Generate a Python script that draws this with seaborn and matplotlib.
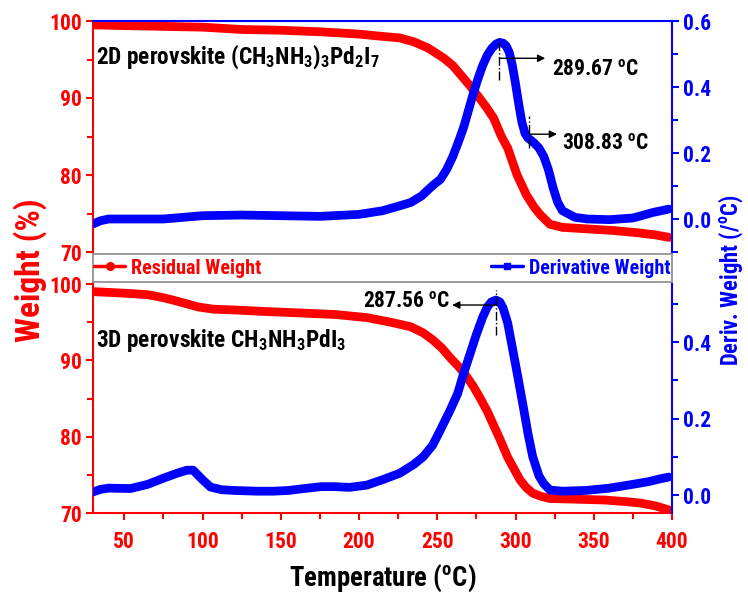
import numpy as np
import pandas as pd
import matplotlib
matplotlib.use("Agg")
import matplotlib.pyplot as plt
import seaborn as sns
from matplotlib import font_manager as fm
from matplotlib.lines import Line2D
from matplotlib.ticker import MultipleLocator, FormatStrFormatter

# ---------------- data ----------------
# 2D perovskite (CH3NH3)3Pd2I7
T_2d_w = [30, 50, 75, 100, 125, 150, 175, 200, 215, 226, 235, 244, 254, 260, 265, 270,
          275.5, 281, 286, 291, 295, 301, 307, 312, 316, 322, 330, 346, 362, 378, 390, 398]
W_2d = [99.5, 99.4, 99.3, 99.2, 98.9, 98.8, 98.6, 98.3, 98.0, 97.8, 97.3, 96.5, 95.2, 94.2, 93.0, 91.8,
        90.4, 88.9, 87.4, 85.0, 83.5, 80.0, 77.4, 75.8, 74.8, 73.6, 73.2, 73.0, 72.8, 72.5, 72.2, 71.9]

T_2d_d = [30, 35, 40, 50, 75, 100, 125, 150, 175, 200, 215, 226, 233, 240, 244, 248, 252, 256, 260,
          264, 267, 270, 273, 276, 279, 282, 285, 287.5, 289.67, 292, 294, 296, 298, 300, 302, 304,
          306, 308, 310, 312, 315, 318, 321, 324, 327, 330, 338, 346, 360, 375, 388, 398]
D_2d = [-0.015, -0.005, 0.0, 0.0, 0.0, 0.01, 0.012, 0.01, 0.008, 0.014, 0.025, 0.04, 0.05, 0.07, 0.088,
        0.105, 0.12, 0.15, 0.19, 0.24, 0.28, 0.33, 0.38, 0.425, 0.465, 0.497, 0.518, 0.53, 0.535, 0.533,
        0.525, 0.505, 0.465, 0.41, 0.35, 0.295, 0.26, 0.245, 0.238, 0.23, 0.215, 0.19, 0.15, 0.095, 0.05,
        0.025, 0.005, 0.0, -0.002, 0.003, 0.02, 0.03]

# 3D perovskite CH3NH3PdI3
T_3d_w = [30, 50, 65, 75, 81, 90, 97, 107, 120, 140, 163, 185, 205, 220, 233, 241, 247, 253, 258, 264,
          269, 273, 277, 282, 286, 290, 295, 299, 303, 307, 311, 316, 322, 340, 357, 370, 380, 390, 398]
W_3d = [99.0, 98.8, 98.6, 98.2, 97.9, 97.4, 97.0, 96.7, 96.6, 96.4, 96.2, 96.0, 95.6, 95.0, 94.4, 93.6,
        92.7, 91.6, 90.4, 89.1, 87.8, 86.6, 85.2, 83.3, 81.5, 79.7, 77.3, 75.8, 74.3, 73.3, 72.6, 72.2,
        71.9, 71.8, 71.7, 71.5, 71.3, 70.9, 70.4]

T_3d_d = [30, 35, 40, 54, 65, 75, 83, 90, 94, 100, 105, 112, 120, 135, 145, 155, 165, 176, 184, 194,
          205, 215, 226, 235, 241, 247, 252, 258, 263, 267, 271, 275, 279, 282, 284.5, 287.56, 290, 292,
          295, 298, 301, 305, 308, 311, 315, 318, 322, 330, 345, 360, 375, 385, 392, 398]
D_3d = [0.008, 0.015, 0.018, 0.017, 0.028, 0.044, 0.056, 0.065, 0.065, 0.04, 0.021, 0.014, 0.012, 0.01,
        0.01, 0.012, 0.017, 0.022, 0.022, 0.02, 0.026, 0.04, 0.057, 0.08, 0.10, 0.13, 0.17, 0.22, 0.265,
        0.32, 0.37, 0.42, 0.465, 0.492, 0.505, 0.51, 0.505, 0.49, 0.45, 0.385, 0.32, 0.23, 0.16, 0.10,
        0.05, 0.03, 0.013, 0.01, 0.012, 0.018, 0.028, 0.035, 0.042, 0.047]

peak_2d_main = 289.67
peak_2d_shoulder = 308.83
peak_3d = 287.56

label_2d = "2D perovskite (CH$_3$NH$_3$)$_3$Pd$_2$I$_7$"
label_3d = "3D perovskite CH$_3$NH$_3$PdI$_3$"
legend_labels = ["Residual Weight", "Derivative Weight"]
x_ticks = [50, 100, 150, 200, 250, 300, 350, 400]

# ---------------- style ----------------
sns.set_style("white")
names = {f.name for f in fm.fontManager.ttflist}
REG = "Liberation Sans" if "Liberation Sans" in names else "DejaVu Sans"
NARROW = None
for cand in ["Liberation Sans Narrow", "Arial Narrow", "Roboto Condensed", "Open Sans Condensed"]:
    if cand in names:
        NARROW = cand
        break
if NARROW is None:
    NARROW = REG
    SZ = dict(xlabel=16, ann=13.2, panel=15.2, legend=12.3, tick=14, ylab=20, rlab=14)
else:
    SZ = dict(xlabel=19.3, ann=15.5, panel=16.8, legend=14.5, tick=15.5, ylab=24, rlab=16.3)

plt.rcParams["font.family"] = [NARROW, REG, "DejaVu Sans"]
plt.rcParams["font.weight"] = "bold"
plt.rcParams["mathtext.fontset"] = "custom"
plt.rcParams["mathtext.rm"] = NARROW + ":bold"
plt.rcParams["mathtext.bf"] = NARROW + ":bold"
plt.rcParams["mathtext.it"] = NARROW + ":bold"
plt.rcParams["mathtext.default"] = "bf"

RED = "#ff0000"
BLUE = "#0000ff"
LW = 6.3

W, H = 748, 601
fig = plt.figure(figsize=(W / 100, H / 100), dpi=100)
L, R = 93, 672
def rect(top, bottom):
    return [L / W, 1 - bottom / H, (R - L) / W, (bottom - top) / H]

ax_top = fig.add_axes(rect(21, 252))
ax_leg = fig.add_axes(rect(254, 282))
ax_bot = fig.add_axes(rect(284, 513))

ax_top2 = ax_top.twinx()
ax_bot2 = ax_bot.twinx()

df2w = pd.DataFrame({"T": T_2d_w, "W": W_2d})
df2d = pd.DataFrame({"T": T_2d_d, "D": D_2d})
df3w = pd.DataFrame({"T": T_3d_w, "W": W_3d})
df3d = pd.DataFrame({"T": T_3d_d, "D": D_3d})

kw = dict(linewidth=LW, estimator=None, solid_capstyle="round", solid_joinstyle="round")
sns.lineplot(data=df2w, x="T", y="W", ax=ax_top, color=RED, **kw)
sns.lineplot(data=df2d, x="T", y="D", ax=ax_top2, color=BLUE, **kw)
sns.lineplot(data=df3w, x="T", y="W", ax=ax_bot, color=RED, **kw)
sns.lineplot(data=df3d, x="T", y="D", ax=ax_bot2, color=BLUE, **kw)

for a in (ax_top, ax_bot):
    a.set_xlim(30, 400)
    a.set_ylim(70, 100)
    a.set_xlabel("")
    a.set_ylabel("")
    a.yaxis.set_major_locator(MultipleLocator(10))
    a.yaxis.set_minor_locator(MultipleLocator(5))
    a.tick_params(axis="y", which="both", direction="out", colors=RED, width=1.5,
                  labelsize=SZ["tick"], pad=3)
    a.tick_params(axis="y", which="major", length=5)
    a.tick_params(axis="y", which="minor", length=4)
    a.spines["left"].set_color(RED)
    a.spines["left"].set_linewidth(1.5)
    for s in ("right", "top"):
        a.spines[s].set_visible(False)

ax_top2.set_ylim(-0.1, 0.6)
ax_bot2.set_ylim(-0.047, 0.552)
for a in (ax_top2, ax_bot2):
    a.set_ylabel("")
    a.set_xlabel("")
    a.yaxis.set_major_locator(MultipleLocator(0.2))
    a.yaxis.set_minor_locator(MultipleLocator(0.1))
    a.yaxis.set_major_formatter(FormatStrFormatter("%.1f"))
    a.tick_params(axis="y", which="both", direction="out", colors=BLUE, width=1.5,
                  labelsize=SZ["tick"], pad=3)
    a.tick_params(axis="y", which="major", length=5)
    a.tick_params(axis="y", which="minor", length=4)
    a.spines["right"].set_color(BLUE)
    a.spines["right"].set_linewidth(1.5)
    for s in ("left", "bottom", "top"):
        a.spines[s].set_visible(False)
ax_top2.spines["top"].set_visible(True)
ax_top2.spines["top"].set_color(BLUE)
ax_top2.spines["top"].set_linewidth(1.5)

# x axis
ax_top.spines["bottom"].set_visible(False)
ax_top.tick_params(axis="x", which="both", bottom=False, labelbottom=False)
ax_top2.tick_params(axis="x", which="both", bottom=False, top=False, labelbottom=False)
ax_bot.set_xticks(x_ticks)
ax_bot.xaxis.set_minor_locator(MultipleLocator(25))
ax_bot.spines["bottom"].set_color(RED)
ax_bot.spines["bottom"].set_linewidth(1.5)
ax_bot.tick_params(axis="x", which="both", direction="out", colors=RED, width=1.5,
                   labelsize=SZ["tick"], pad=8, bottom=True)
ax_bot.tick_params(axis="x", which="major", length=5)
ax_bot.tick_params(axis="x", which="minor", length=4)
ax_bot2.tick_params(axis="x", which="both", bottom=False, top=False)

# legend strip
ax_leg.set_xticks([])
ax_leg.set_yticks([])
for s in ax_leg.spines.values():
    s.set_visible(True)
    s.set_color("#8a8a8a")
    s.set_linewidth(1.2)
h_red = Line2D([], [], color=RED, lw=2.5, marker="o", ms=5.5)
h_blue = Line2D([], [], color=BLUE, lw=2.5, marker="s", ms=4.5)
legfont = dict(family=NARROW, weight="bold", size=SZ["legend"])
leg1 = ax_leg.legend([h_red], [legend_labels[0]], loc="center left", frameon=False,
                     labelcolor=RED, prop=legfont, handlelength=1.55, handletextpad=0.3,
                     borderaxespad=0.0, borderpad=0.0, bbox_to_anchor=(0.002, 0.5))
ax_leg.add_artist(leg1)
ax_leg.legend([h_blue], [legend_labels[1]], loc="center right", frameon=False,
              labelcolor=BLUE, prop=legfont, handlelength=1.55, handletextpad=0.3,
              borderaxespad=0.0, borderpad=0.0, bbox_to_anchor=(0.997, 0.5))

# panel labels
txtfont = dict(family=NARROW, weight="bold", size=SZ["panel"], color="black")
ax_top.text(0.006, 0.844, label_2d, transform=ax_top.transAxes, va="center", ha="left", **txtfont)
ax_bot.text(0.006, 0.755, label_3d, transform=ax_bot.transAxes, va="center", ha="left", **txtfont)

# annotations
arr = dict(arrowstyle="-|>", color="black", lw=1.0, mutation_scale=11, shrinkA=0, shrinkB=0)
annfont = dict(family=NARROW, weight="bold", size=SZ["ann"], color="black")
ax_top2.plot([peak_2d_main, peak_2d_main], [0.42, 0.55], color="black", lw=1.0, ls="-.")
ax_top2.annotate("", xy=(319, 0.487), xytext=(peak_2d_main, 0.487), arrowprops=arr)
ax_top2.text(323, 0.45, "289.67 $^{o}$C", va="center", ha="left", **annfont)

ax_top2.plot([peak_2d_shoulder, peak_2d_shoulder], [0.214, 0.312], color="black", lw=1.0, ls="-.")
ax_top2.annotate("", xy=(326.5, 0.257), xytext=(peak_2d_shoulder, 0.257), arrowprops=arr)
ax_top2.text(330, 0.226, "308.83 $^{o}$C", va="center", ha="left", **annfont)

ax_bot2.plot([peak_3d, peak_3d], [0.418, 0.536], color="black", lw=1.0, ls="-.")
ax_bot2.annotate("", xy=(259.5, 0.497), xytext=(peak_3d, 0.497), arrowprops=arr)
ax_bot2.text(258.5, 0.505, "287.56 $^{o}$C", va="center", ha="right", **annfont)

# axis titles
fig.text(382.5 / W, 1 - 578 / H, "Temperature ($^{o}$C)", ha="center", va="center",
         family=NARROW, weight="bold", size=SZ["xlabel"], color="black")
fig.text(30 / W, 1 - 270 / H, "Weight (%)", ha="center", va="center", rotation=90,
         family=NARROW, weight="bold", size=SZ["ylab"], color=RED)
fig.text(731 / W, 1 - 280 / H, "Deriv. Weight (/$^{o}$C)", ha="center", va="center", rotation=90,
         family=NARROW, weight="bold", size=SZ["rlab"], color=BLUE)

fig.savefig("out.png", dpi=100)
